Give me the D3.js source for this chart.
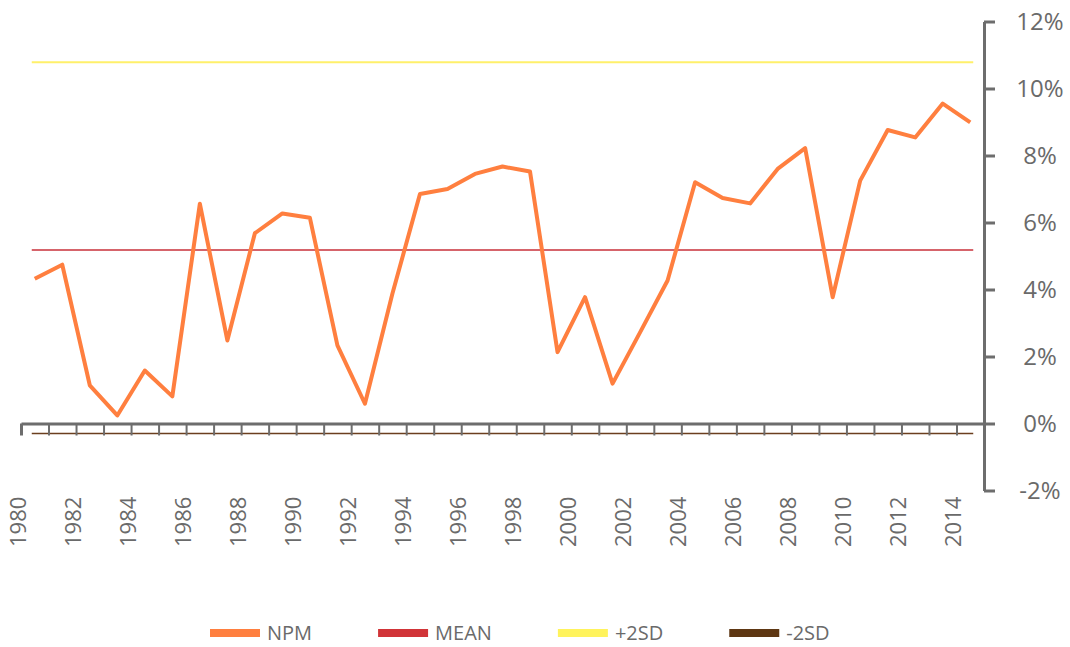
<!DOCTYPE html>
<html>
<head>
<meta charset="utf-8">
<script src="https://cdn.jsdelivr.net/npm/d3@7"></script>
<style>
  body { margin: 0; background: #fff; }
  svg { display: block; font-family: "Open Sans", sans-serif; }
</style>
</head>
<body>
<svg id="chart" width="1070" height="647"></svg>
<script>
const years = d3.range(1980, 2015);
const npm = [4.32, 4.74, 1.14, 0.24, 1.58, 0.81, 6.56, 2.48, 5.68, 6.27,
             6.14, 2.33, 0.59, 3.88, 6.85, 7.0, 7.45, 7.67, 7.52, 2.13,
             3.77, 1.19, 2.72, 4.27, 7.2, 6.73, 6.57, 7.6, 8.22, 3.77,
             7.25, 8.76, 8.54, 9.55, 8.99];
const mean = 5.18;
const plus2sd = 10.78;
const minus2sd = -0.3;
const yTicks = [-2, 0, 2, 4, 6, 8, 10, 12];
const labelYears = d3.range(1980, 2015, 2);
const legendItems = [
  { name: "NPM", color: "#ff7f3f" },
  { name: "MEAN", color: "#d13438" },
  { name: "+2SD", color: "#fff35c" },
  { name: "-2SD", color: "#5e3713" }
];

const svg = d3.select("#chart");
const axisColor = "#6d6d6d";
const textColor = "#6a6a6a";

const x = d3.scaleBand().domain(years).range([21, 984]);
const xEdge = d3.scaleLinear().domain([1980, 2015]).range([21, 984]);
const y = d3.scaleLinear().domain([-2, 12]).range([490.5, 21.5]);
const cx = d => x(d) + x.bandwidth() / 2;

// reference lines
const refLines = [
  { v: plus2sd, color: "#fff06a", w: 2 },
  { v: mean, color: "#c9303a", w: 1.5 },
  { v: minus2sd, color: "#6b3f1f", w: 1.5 }
];
svg.selectAll("line.ref")
  .data(refLines)
  .enter()
  .append("line")
  .attr("class", "ref")
  .attr("x1", cx(1980) - 3)
  .attr("x2", cx(2014) + 3)
  .attr("y1", d => y(d.v))
  .attr("y2", d => y(d.v))
  .attr("stroke", d => d.color)
  .attr("stroke-width", d => d.w);

// x axis (category boundaries)
const xAxis = svg.append("g")
  .attr("transform", `translate(0,${y(0)})`)
  .call(d3.axisBottom(xEdge)
    .tickValues(years)
    .tickSize(12)
    .tickSizeOuter(0)
    .tickFormat(""));
xAxis.select(".domain").attr("stroke", axisColor).attr("stroke-width", 3);
xAxis.selectAll(".tick line").attr("stroke", axisColor).attr("stroke-width", 2);
xAxis.select(".tick line").attr("stroke-width", 3);

svg.selectAll("text.xlab")
  .data(labelYears)
  .enter()
  .append("text")
  .attr("class", "xlab")
  .attr("transform", d => `translate(${cx(d) - 9},547) rotate(-90)`)
  .attr("font-size", 22)
  .attr("fill", textColor)
  .text(d => d);

// right y axis
const yAxis = svg.append("g")
  .attr("transform", "translate(984,0)")
  .call(d3.axisRight(y)
    .tickValues(yTicks)
    .tickSize(11)
    .tickSizeOuter(0)
    .tickFormat(d => d + "%"));
yAxis.select(".domain").attr("stroke", axisColor).attr("stroke-width", 3);
yAxis.selectAll(".tick line").attr("stroke", axisColor).attr("stroke-width", 3);
yAxis.selectAll(".tick text")
  .attr("x", 56)
  .attr("text-anchor", "middle")
  .attr("font-size", 24)
  .attr("font-family", "Open Sans, sans-serif")
  .attr("fill", textColor);

// NPM line
const line = d3.line()
  .x((d, i) => cx(years[i]))
  .y(d => y(d));
svg.append("path")
  .datum(npm)
  .attr("fill", "none")
  .attr("stroke", "#ff7f3f")
  .attr("stroke-width", 4)
  .attr("stroke-linejoin", "round")
  .attr("d", line);

// legend
let lx = 210;
legendItems.forEach(item => {
  const g = svg.append("g");
  g.append("rect")
    .attr("x", lx)
    .attr("y", 629)
    .attr("width", 50)
    .attr("height", 8)
    .attr("fill", item.color);
  const t = g.append("text")
    .attr("x", lx + 57)
    .attr("y", 640)
    .attr("font-size", 20)
    .attr("fill", textColor)
    .text(item.name);
  lx += 57 + t.node().getComputedTextLength() + 66;
});
</script>
</body>
</html>
